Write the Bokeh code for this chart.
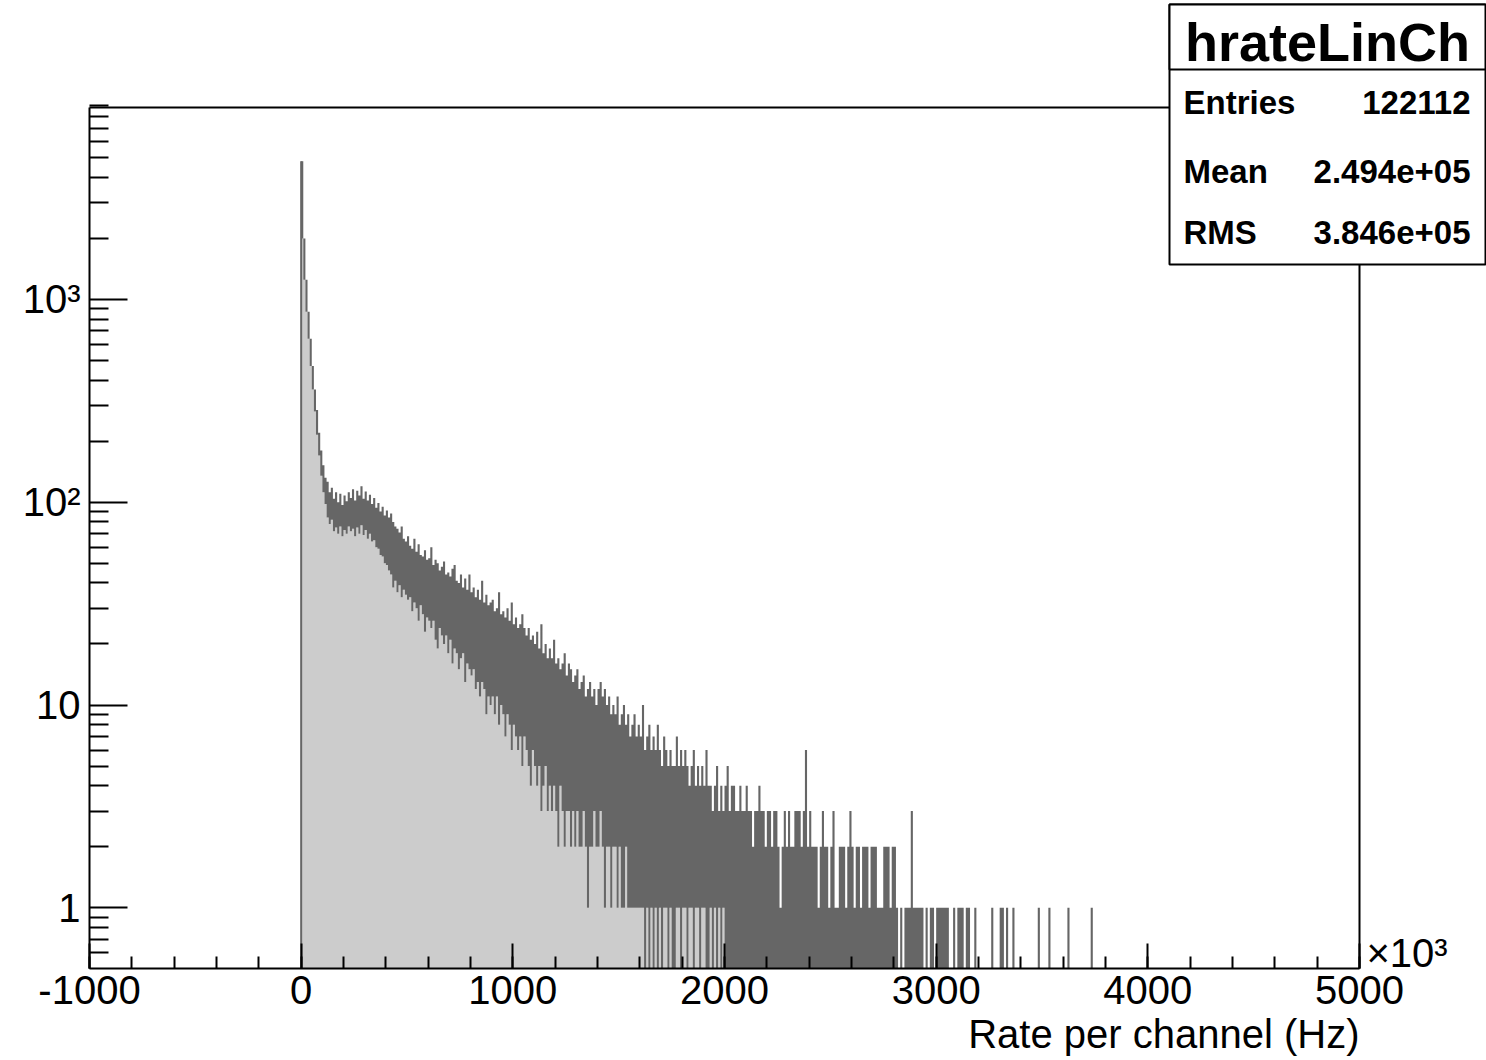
import numpy as np
from bokeh.core.properties import value
from bokeh.embed import file_html
from bokeh.models import FixedTicker, Range1d
from bokeh.plotting import figure
from bokeh.resources import INLINE

# ---------------------------------------------------------------------------
# Histogram "hrateLinCh": rate per channel, x in units of 10^3 Hz.
# Each column is 10 kHz wide; count_hi / count_lo are the highest and the
# lowest bin content inside that column (0 = empty).
# ---------------------------------------------------------------------------
bin_width_khz = 10

count_hi = [
    4800, 2000, 1250, 870, 640, 470, 360, 285, 220, 180,
    152, 132, 126, 112, 118, 104, 112, 100, 110, 97,
    108, 101, 112, 105, 116, 102, 114, 108, 120, 104,
    113, 102, 109, 98, 105, 94, 99, 90, 95, 86,
    91, 84, 88, 80, 76, 74, 71, 76, 66, 64,
    68, 61, 59, 66, 57, 62, 55, 54, 58, 52,
    53, 60, 49, 52, 50, 46, 48, 51, 44, 45,
    43, 47, 49, 41, 40, 44, 38, 42, 37, 44,
    36, 38, 34, 37, 33, 41, 32, 35, 31, 32,
    33, 29, 30, 36, 28, 29, 27, 30, 26, 32,
    25, 27, 24, 25, 28, 24, 22, 24, 21, 22,
    20, 23, 19, 25, 18, 20, 17, 19, 17, 21,
    16, 17, 15, 16, 18, 14, 16, 15, 13, 14,
    15, 12, 13, 14, 11, 12, 13, 11, 12, 10,
    12, 13, 11, 12, 10, 11, 9, 10, 9, 11,
    8, 9, 10, 8, 9, 7, 8, 9, 7, 8,
    7, 10, 6, 7, 8, 6, 7, 6, 8, 6,
    5, 7, 6, 5, 6, 5, 5, 7, 5, 6,
    5, 6, 5, 4, 5, 6, 4, 5, 4, 5,
    4, 6, 4, 4, 3, 4, 5, 3, 4, 3,
    4, 5, 3, 4, 4, 3, 3, 4, 3, 3,
    4, 3, 3, 2, 3, 3, 4, 3, 3, 2,
    3, 3, 2, 3, 3, 2, 1, 2, 3, 2,
    3, 2, 2, 3, 3, 3, 2, 3, 6, 2,
    3, 2, 2, 2, 1, 2, 3, 2, 2, 1,
    2, 3, 1, 1, 2, 2, 2, 1, 2, 3,
    2, 1, 2, 2, 1, 2, 2, 2, 1, 2,
    2, 2, 1, 1, 1, 2, 2, 2, 1, 2,
    2, 1, 0, 1, 0, 1, 1, 1, 3, 1,
    1, 1, 1, 1, 0, 1, 0, 1, 1, 0,
    1, 1, 1, 1, 1, 1, 0, 0, 1, 0,
    1, 1, 1, 0, 1, 1, 0, 0, 1, 0,
    0, 0, 0, 0, 0, 0, 1, 0, 0, 0,
    1, 1, 0, 1, 0, 0, 1, 0, 0, 0,
    0, 0, 0, 0, 0, 0, 0, 0, 1, 0,
    0, 0, 0, 1, 0, 0, 0, 0, 0, 0,
    0, 0, 1, 0, 0, 0, 0, 0, 0, 0,
    0, 0, 0, 1, 0,
]

count_lo = [
    2000, 1250, 870, 640, 470, 360, 280, 215, 170, 135,
    112, 98, 84, 78, 82, 72, 75, 70, 76, 68,
    73, 70, 76, 72, 74, 68, 75, 70, 77, 69,
    73, 66, 70, 64, 65, 60, 59, 55, 54, 50,
    49, 46, 44, 38, 41, 36, 39, 34, 37, 35,
    33, 34, 29, 32, 30, 26, 31, 28, 23, 27,
    26, 24, 26, 21, 19, 24, 22, 20, 22, 18,
    21, 16, 19, 18, 15, 17, 18, 13, 16, 15,
    14, 15, 12, 13, 11, 13, 12, 9, 11, 10,
    11, 9, 11, 8, 10, 9, 7, 9, 8, 6,
    8, 7, 6, 7, 5, 7, 6, 5, 4, 6,
    5, 4, 5, 3, 4, 5, 3, 4, 3, 4,
    3, 2, 4, 3, 2, 3, 3, 2, 3, 2,
    3, 2, 2, 3, 2, 1, 2, 2, 3, 2,
    2, 3, 2, 1, 2, 2, 1, 2, 2, 1,
    2, 1, 1, 2, 1, 1, 1, 1, 1, 1,
    1, 1, 0, 1, 0, 1, 0, 1, 0, 1,
    0, 1, 1, 0, 1, 0, 0, 1, 1, 0,
    1, 1, 0, 1, 1, 0, 1, 1, 0, 1,
    1, 0, 0, 1, 0, 1, 0, 1, 0, 1,
] + [0] * 175

stats_title = "hrateLinCh"
stats_names = ["Entries", "Mean", "RMS"]
stats_values = ["122112", "2.494e+05", "3.846e+05"]

x_ticks = [-1000, 0, 1000, 2000, 3000, 4000, 5000]
x_tick_labels = ["-1000", "0", "1000", "2000", "3000", "4000", "5000"]
y_ticks = [1, 10, 100, 1000]
y_tick_labels = ["1", "10", "10²", "10³"]
x_title = "Rate per channel (Hz)"
x_multiplier = "×10³"

# ---------------------------------------------------------------------------
# Page geometry: the histogram frame sits at pixels (89..1359, 107..968);
# the plotting area spans the whole canvas so the statistics box and the
# axis title can share it, and the axes are pinned to the frame edges.
# ---------------------------------------------------------------------------
W, H = 1486, 1060
FRAME_L, FRAME_R, FRAME_T, FRAME_B = 89, 1359, 107, 968
X_MIN, X_MAX = -1000, 5000
Y_MIN, Y_MAX = 0.502, 8840
FONT = "Liberation Sans"
LINE_GREY = "#666666"
FILL_GREY = "#cccccc"


def px_x(px):
    """Canvas pixel column -> x data value."""
    return X_MIN + (px - FRAME_L) * (X_MAX - X_MIN) / (FRAME_R - FRAME_L)


def px_y(py):
    """Canvas pixel row -> y data value on the log axis."""
    a, b = np.log10(Y_MIN), np.log10(Y_MAX)
    return 10 ** (a + (FRAME_B - py) * (b - a) / (FRAME_B - FRAME_T))


p = figure(
    width=W, height=H,
    x_range=Range1d(px_x(0), px_x(W)), y_range=Range1d(px_y(H), px_y(0)),
    y_axis_type="log",
    output_backend="svg", toolbar_location=None,
    min_border_left=0, min_border_right=0, min_border_top=0, min_border_bottom=0,
    background_fill_color="white", border_fill_color="white",
)
p.grid.visible = False
p.outline_line_color = None

# ---------------------------------------------------------------------------
# Histogram: light fill below the column minimum, dark band up to the maximum
# ---------------------------------------------------------------------------
hi = np.maximum(np.array(count_hi, dtype=float), Y_MIN)
lo = np.maximum(np.array(count_lo, dtype=float), Y_MIN)
left = np.arange(len(hi)) * bin_width_khz
right = left + bin_width_khz
step_x = np.column_stack([left, right]).ravel()
step_hi = np.repeat(hi, 2)
step_lo = np.repeat(lo, 2)

fill_x = np.concatenate([[0], step_x, [step_x[-1]]])
fill_y = np.concatenate([[Y_MIN], step_lo, [Y_MIN]])
p.patch(fill_x, fill_y, fill_color=FILL_GREY, line_color=None)

band_x = np.concatenate([step_x, step_x[::-1]])
band_y = np.concatenate([step_hi, step_lo[::-1]])
p.patch(band_x, band_y, fill_color=LINE_GREY, line_color=None)

# left edge of the histogram outline
p.segment(x0=[0], y0=[Y_MIN], x1=[0], y1=[hi[0]], line_color=LINE_GREY, line_width=2)

# top and right edges of the frame
p.segment(x0=[X_MIN, X_MAX], y0=[Y_MAX, Y_MIN], x1=[X_MAX, X_MAX], y1=[Y_MAX, Y_MAX],
          line_color="black", line_width=2)

# ---------------------------------------------------------------------------
# Axes, pinned to the frame's bottom and left edges
# ---------------------------------------------------------------------------
xa = p.xaxis[0]
xa.fixed_location = Y_MIN
xa.bounds = (X_MIN, X_MAX)
xa.ticker = FixedTicker(ticks=x_ticks, minor_ticks=list(range(-1000, 5001, 200)))
xa.major_label_overrides = {t: s for t, s in zip(x_ticks, x_tick_labels)}

ya = p.yaxis[0]
ya.fixed_location = X_MIN
ya.bounds = (Y_MIN, Y_MAX)
y_minor = [0.6, 0.7, 0.8, 0.9] + [m * 10 ** e for e in range(0, 4) for m in range(2, 10)]
ya.ticker = FixedTicker(ticks=y_ticks, minor_ticks=y_minor)
ya.major_label_overrides = {t: s for t, s in zip(y_ticks, y_tick_labels)}

for ax in (xa, ya):
    ax.axis_line_color = "black"
    ax.axis_line_width = 2
    ax.major_tick_line_color = "black"
    ax.minor_tick_line_color = "black"
    ax.major_tick_line_width = 2
    ax.minor_tick_line_width = 2
    ax.major_tick_out = 0
    ax.minor_tick_out = 0
    ax.major_label_text_font = FONT
    ax.major_label_text_font_size = "40px"
    ax.major_label_text_color = "black"

xa.major_tick_in = 25
xa.minor_tick_in = 12
xa.major_label_standoff = 7
ya.major_tick_in = 38
ya.minor_tick_in = 19
ya.major_label_standoff = 9


def text_mid(baseline_px, size_px):
    """Vertical middle of a text line whose baseline sits at baseline_px."""
    return px_y(baseline_px - 0.3465 * size_px)


# axis title and the x10^3 multiplier
p.text(x=[X_MAX], y=[text_mid(1047, 40)], text=[x_title], text_align="right",
       text_baseline="middle", text_font=value(FONT), text_font_size="40px",
       text_color="black")
p.text(x=[px_x(1366)], y=[text_mid(966, 40)], text=[x_multiplier], text_align="left",
       text_baseline="middle", text_font=value(FONT), text_font_size="40px",
       text_color="black")

# ---------------------------------------------------------------------------
# Statistics box
# ---------------------------------------------------------------------------
box_l, box_r, box_t, box_mid, box_b = 1169, 1485, 4, 69, 264
p.quad(left=[px_x(box_l)] * 2, right=[px_x(box_r)] * 2,
       top=[px_y(box_t)] * 2, bottom=[px_y(box_b), px_y(box_mid)],
       fill_color="white", line_color="black", line_width=2)
p.text(x=[px_x(1327)], y=[text_mid(60, 54)], text=[stats_title], text_align="center",
       text_baseline="middle", text_font=value(FONT), text_font_style="bold",
       text_font_size="54px", text_color="black")
row_mid = [text_mid(b, 33) for b in (113, 182, 243)]
p.text(x=[px_x(1183)] * 3, y=row_mid, text=stats_names, text_align="left",
       text_baseline="middle", text_font=value(FONT), text_font_style="bold",
       text_font_size="33px", text_color="black")
p.text(x=[px_x(1470)] * 3, y=row_mid, text=stats_values, text_align="right",
       text_baseline="middle", text_font=value(FONT), text_font_style="bold",
       text_font_size="33px", text_color="black")

open("out.html", "w").write(file_html(p, INLINE))
